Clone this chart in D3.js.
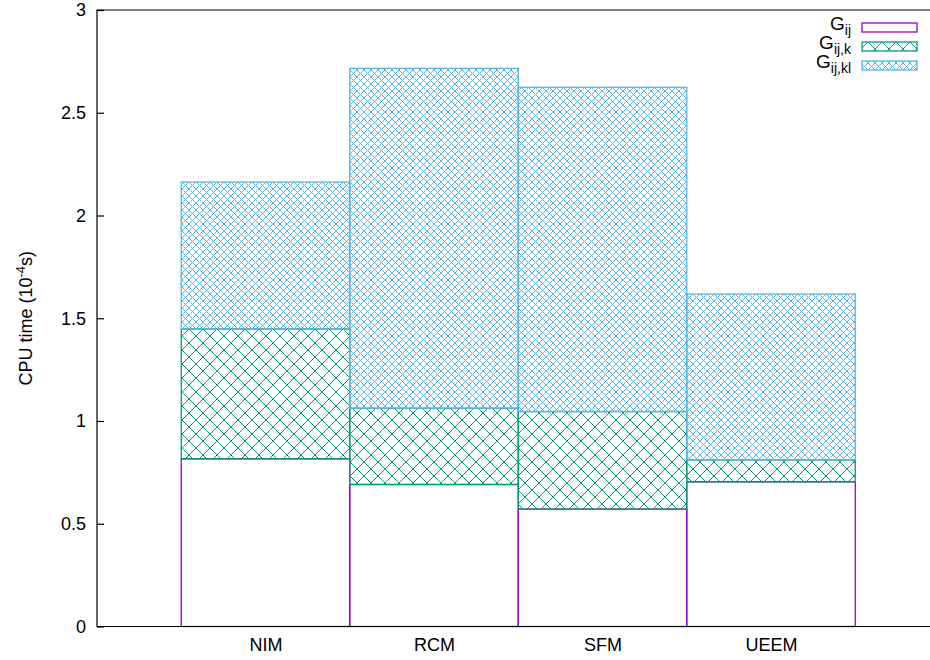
<!DOCTYPE html>
<html>
<head>
<meta charset="utf-8">
<script src="https://cdn.jsdelivr.net/npm/d3@7"></script>
<style>
  body { margin: 0; background: #fff; }
  svg { display: block; font-family: "Liberation Sans", Arial, sans-serif; }
</style>
</head>
<body>
<svg id="chart"></svg>
<script>
// chart data (stacked increments, units of 1e-4 s)
const categories = ['NIM', 'RCM', 'SFM', 'UEEM'];
const seriesKeys = ['gij', 'gijk', 'gijkl'];
const gij   = [0.816, 0.691, 0.571, 0.704];
const gijk  = [0.632, 0.371, 0.475, 0.107];
const gijkl = [0.715, 1.654, 1.578, 0.807];
const yTicks = [0, 0.5, 1, 1.5, 2, 2.5, 3];
const yTickLabels = ['0', '0.5', '1', '1.5', '2', '2.5', '3'];

// base settings
const width = 930;
const height = 660;
const plotLeft = 97, plotTop = 10, plotBottom = 626.5;
const fontSize = 18;

const colors = { gij: '#9400d3', gijk: '#009e73', gijkl: '#56b4e9' };
const fills = { gij: 'none', gijk: 'url(#hatchK)', gijkl: 'url(#hatchKL)' };

const svg = d3.select('#chart')
    .attr('width', width).attr('height', height);

// hatch patterns
const defs = svg.append('defs');
function addHatch(id, size, color) {
    defs.append('pattern')
        .attr('id', id)
        .attr('patternUnits', 'userSpaceOnUse')
        .attr('width', size).attr('height', size)
        .append('path')
        .attr('d', `M0,0L${size},${size}M${size},0L0,${size}`)
        .attr('stroke', color)
        .attr('stroke-width', 1)
        .attr('fill', 'none');
}
addHatch('hatchK', 14, colors.gijk);
addHatch('hatchKL', 7, colors.gijkl);

// scales: categories at 0..3, x range -1..4 like gnuplot's autoscale
const x = d3.scaleLinear().domain([-1, 4]).range([plotLeft, plotLeft + 5 * 168.5]);
const y = d3.scaleLinear().domain([0, 3]).range([plotBottom, plotTop]);

const rows = categories.map((c, i) => ({ cat: c, i: i, gij: gij[i], gijk: gijk[i], gijkl: gijkl[i] }));
const stacked = d3.stack().keys(seriesKeys)(rows);

// bars, series by series (later series overdraw earlier borders)
stacked.forEach(layer => {
    svg.append('g')
        .selectAll('rect')
        .data(layer)
        .enter().append('rect')
        .attr('x', d => x(d.data.i - 0.5))
        .attr('width', d => x(d.data.i + 0.5) - x(d.data.i - 0.5))
        .attr('y', d => y(d[1]))
        .attr('height', d => y(d[0]) - y(d[1]))
        .attr('fill', fills[layer.key])
        .attr('stroke', colors[layer.key])
        .attr('stroke-width', 1.3);
});

// border: left, bottom, top
svg.append('path')
    .attr('d', `M${width},${plotTop}H${plotLeft}V${plotBottom}H${width}`)
    .attr('fill', 'none')
    .attr('stroke', '#000')
    .attr('stroke-width', 1.2);

// y axis with inward ticks
const yAxis = svg.append('g')
    .attr('transform', `translate(${plotLeft},0)`)
    .call(d3.axisLeft(y)
        .tickValues(yTicks)
        .tickFormat((d, i) => yTickLabels[i])
        .tickSizeInner(-7)
        .tickSizeOuter(0)
        .tickPadding(11));
yAxis.select('.domain').remove();
yAxis.selectAll('line').attr('stroke', '#000').attr('stroke-width', 1.2);
yAxis.selectAll('text').attr('font-size', fontSize).attr('fill', '#000')
    .attr('font-family', '"Liberation Sans", Arial, sans-serif');

// x axis labels
const xAxis = svg.append('g')
    .attr('transform', `translate(0,${plotBottom})`)
    .call(d3.axisBottom(x)
        .tickValues(d3.range(categories.length))
        .tickFormat(i => categories[i])
        .tickSize(0)
        .tickPadding(12));
xAxis.select('.domain').remove();
xAxis.selectAll('text').attr('font-size', fontSize).attr('fill', '#000')
    .attr('font-family', '"Liberation Sans", Arial, sans-serif');

// y label
const yLabel = svg.append('text')
    .attr('transform', `translate(32,${(plotTop + plotBottom) / 2}) rotate(-90)`)
    .attr('text-anchor', 'middle')
    .attr('font-size', fontSize);
yLabel.append('tspan').text('CPU time (10');
yLabel.append('tspan').attr('font-size', 13).attr('dy', -7).text('-4');
yLabel.append('tspan').attr('dy', 7).text('s)');

// legend
const legendLabels = [['G', 'ij'], ['G', 'ij,k'], ['G', 'ij,kl']];
const legend = svg.append('g');
seriesKeys.forEach((key, i) => {
    const cy = 27.5 + i * 19;
    const t = legend.append('text')
        .attr('x', 851).attr('y', cy + 2)
        .attr('text-anchor', 'end')
        .attr('font-size', 19);
    t.append('tspan').text(legendLabels[i][0]);
    t.append('tspan').attr('font-size', 14).attr('dy', 5).text(legendLabels[i][1]);
    legend.append('rect')
        .attr('x', 862).attr('y', cy - 4.5)
        .attr('width', 55).attr('height', 9)
        .attr('fill', fills[key])
        .attr('stroke', colors[key])
        .attr('stroke-width', 1.3);
});
</script>
</body>
</html>
